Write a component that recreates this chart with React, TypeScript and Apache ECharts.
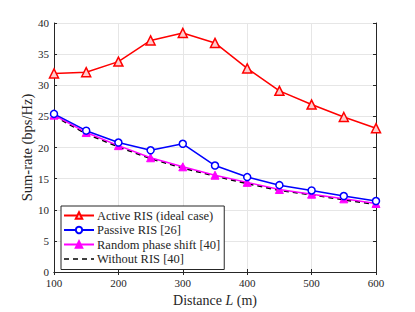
import React, { useEffect, useRef } from "react";
import * as echarts from "echarts";

const distances = [100, 150, 200, 250, 300, 350, 400, 450, 500, 550, 600];
const activeRIS = [31.9, 32.1, 33.8, 37.2, 38.4, 36.8, 32.7, 29.1, 26.9, 24.9, 23.1];
const passiveRIS = [25.4, 22.7, 20.8, 19.55, 20.6, 17.1, 15.25, 13.95, 13.1, 12.2, 11.4];
const randomPhase = [25.2, 22.4, 20.3, 18.35, 16.9, 15.55, 14.4, 13.25, 12.5, 11.75, 11.0];
const withoutRIS = [25.05, 22.2, 20.1, 18.2, 16.7, 15.4, 14.2, 13.1, 12.4, 11.6, 10.85];
const xTicks = [100, 200, 300, 400, 500, 600];
const yTicks = [0, 5, 10, 15, 20, 25, 30, 35, 40];

const FONT = "'Liberation Serif', 'DejaVu Serif', serif";
const TXT = "#262626";

const pair = (ys: number[]) => distances.map((d, i) => [d, ys[i]]);

export default function App() {
  const ref = useRef<HTMLDivElement>(null);
  useEffect(() => {
    if (!ref.current) return;
    const chart = echarts.init(ref.current, undefined, { renderer: "svg" });
    const axisCommon = {
      axisLine: { show: true, lineStyle: { color: "#262626", width: 1 } },
      axisTick: { show: true, inside: true, length: 3, lineStyle: { color: "#262626" } },
    };
    chart.setOption({
      animation: false,
      backgroundColor: "#ffffff",
      textStyle: { fontFamily: FONT },
      grid: { left: 54, right: 39, top: 23, bottom: 34, containLabel: false },
      legend: {
        left: 61,
        top: 206,
        orient: "vertical",
        backgroundColor: "#ffffff",
        borderColor: "#262626",
        borderWidth: 1,
        borderRadius: 0,
        padding: [3, 4, 4, 2],
        itemWidth: 30,
        itemHeight: 8,
        itemGap: 1.5,
        textStyle: { fontFamily: FONT, fontSize: 12.5, color: TXT, padding: [0, 0, 0, -2] },
        data: [
          "Active RIS (ideal case)",
          "Passive RIS [26]",
          "Random phase shift [40]",
          { name: "Without RIS [40]", itemStyle: { opacity: 0 }, lineStyle: { type: [5, 4], color: "#000000", width: 1.6 } },
        ],
      },
      xAxis: [
        {
          type: "value",
          min: 100,
          max: 600,
          interval: 100,
          position: "bottom",
          name: "Distance {i|L} (m)",
          nameLocation: "middle",
          nameGap: 21,
          nameMoveOverlap: false,
          nameTextStyle: {
            fontFamily: FONT,
            fontSize: 14,
            color: TXT,
            verticalAlign: "top",
            rich: { i: { fontStyle: "italic", fontFamily: FONT, fontSize: 14, color: TXT } },
          },
          ...axisCommon,
          axisLabel: { fontFamily: FONT, fontSize: 11, color: TXT, margin: 5, formatter: (v: number) => (xTicks.includes(v) ? String(v) : "") },
          splitLine: { show: true, lineStyle: { color: "#e6e6e6", width: 1 } },
        },
        {
          type: "value",
          min: 100,
          max: 600,
          interval: 100,
          position: "top",
          ...axisCommon,
          axisLabel: { show: false },
          splitLine: { show: false },
        },
      ],
      yAxis: [
        {
          type: "value",
          min: 0,
          max: 40,
          interval: 5,
          position: "left",
          name: "Sum-rate (bps/Hz)",
          nameLocation: "middle",
          nameGap: 20,
          nameMoveOverlap: false,
          nameTextStyle: { fontFamily: FONT, fontSize: 14.5, color: TXT },
          ...axisCommon,
          axisLabel: { fontFamily: FONT, fontSize: 11, color: TXT, margin: 5, formatter: (v: number) => (yTicks.includes(v) ? String(v) : "") },
          splitLine: { show: true, lineStyle: { color: "#e6e6e6", width: 1 } },
        },
        {
          type: "value",
          min: 0,
          max: 40,
          interval: 5,
          position: "right",
          ...axisCommon,
          axisLabel: { show: false },
          splitLine: { show: false },
        },
      ],
      series: [
        {
          name: "Without RIS [40]",
          type: "line",
          data: pair(withoutRIS),
          symbol: "none",
          lineStyle: { color: "#000000", width: 1.6, type: [5, 4] },
          itemStyle: { color: "#000000" },
          z: 2,
        },
        {
          name: "Random phase shift [40]",
          type: "line",
          data: pair(randomPhase),
          symbol: "triangle",
          symbolSize: 8,
          lineStyle: { color: "#ff00ff", width: 1.5 },
          itemStyle: { color: "#ff00ff", borderColor: "#ff00ff", borderWidth: 1 },
          z: 3,
        },
        {
          name: "Passive RIS [26]",
          type: "line",
          data: pair(passiveRIS),
          symbol: "circle",
          symbolSize: 7,
          showAllSymbol: true,
          lineStyle: { color: "#0000ff", width: 1.5 },
          itemStyle: { color: "#ffffff", borderColor: "#0000ff", borderWidth: 1.5 },
          z: 4,
        },
        {
          name: "Active RIS (ideal case)",
          type: "line",
          data: pair(activeRIS),
          symbol: "triangle",
          symbolSize: 9,
          lineStyle: { color: "#ff0000", width: 1.5 },
          itemStyle: { color: "#ffcccc", borderColor: "#ff0000", borderWidth: 1.5 },
          z: 5,
        },
      ],
    });
    return () => chart.dispose();
  }, []);
  return <div ref={ref} style={{ width: 415, height: 312, position: "absolute", left: 0, top: 0 }} />;
}
